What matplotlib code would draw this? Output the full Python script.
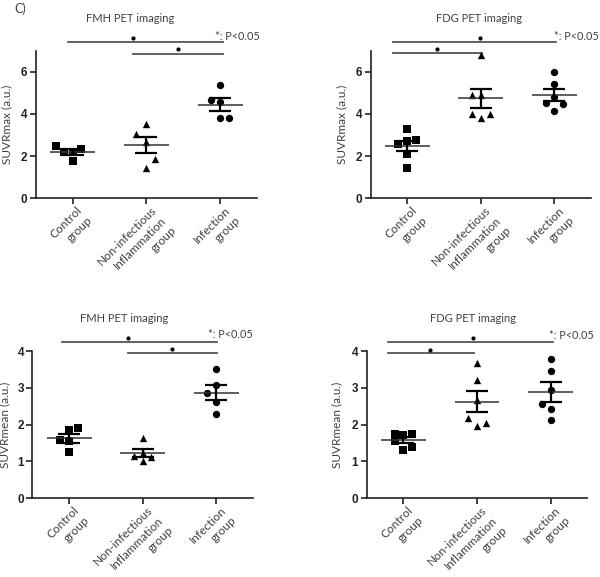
import numpy as np
import matplotlib
matplotlib.use("Agg")
import matplotlib.pyplot as plt
import matplotlib.transforms as mtransforms

# ---------------- data ----------------
groups = ["Control\ngroup", "Non-infectious\nInflammation\ngroup", "Infection\ngroup"]

fmh_max_control = [2.50, 2.20, 2.20, 2.35, 1.75]
fmh_max_noninf = [3.53, 3.03, 2.68, 1.85, 1.45]
fmh_max_infect = [5.37, 4.66, 4.58, 3.79, 3.79]

fdg_max_control = [3.30, 2.56, 2.72, 2.76, 2.09, 1.45]
fdg_max_noninf = [6.81, 4.90, 4.90, 4.00, 3.82, 4.00]
fdg_max_infect = [5.97, 5.42, 4.79, 4.53, 4.47, 4.15]

fmh_mean_control = [1.90, 1.86, 1.58, 1.56, 1.25]
fmh_mean_noninf = [1.65, 1.22, 1.16, 1.13, 1.02]
fmh_mean_infect = [3.51, 3.08, 2.85, 2.62, 2.29]

fdg_mean_control = [1.75, 1.72, 1.75, 1.55, 1.32, 1.40]
fdg_mean_noninf = [3.67, 3.22, 2.67, 2.18, 1.95, 2.04]
fdg_mean_infect = [3.79, 3.45, 2.95, 2.57, 2.43, 2.13]

titles = ["FMH PET imaging", "FDG PET imaging", "FMH PET imaging", "FDG PET imaging"]
ylabels = ["SUVRmax (a.u.)", "SUVRmax (a.u.)", "SUVRmean (a.u.)", "SUVRmean (a.u.)"]
yticks_max = [0, 2, 4, 6]
yticks_mean = [0, 1, 2, 3, 4]
sig_label = "*: P<0.05"

# ---------------- layout / style ----------------
offs = {
    "p1": [[-0.22, -0.11, 0, 0.12, 0], [0, -0.14, 0, 0.12, 0], [0, -0.13, 0, 0, 0.12]],
    "p2": [[0, -0.13, 0, 0.12, 0, 0], [0, -0.12, 0, -0.12, 0, 0.12], [0, 0, 0, -0.11, 0.12, 0]],
    "p3": [[0.12, 0, -0.12, 0, 0], [0, 0, -0.12, 0.12, 0], [0, 0, -0.13, 0, 0]],
    "p4": [[-0.12, 0, 0.12, -0.12, 0, 0.12], [0, 0, 0, -0.12, 0, 0.12], [0, 0, 0, -0.12, 0, 0]],
}
markers = ["s", "^", "o"]
TXT = "#404040"
LBL_FONT = ["Lato", "DejaVu Sans"]
TICK_FONT = ["Liberation Sans", "DejaVu Sans"]
LINE_PITCH = 14.5  # px between rotated label lines

W, H = 600, 577
fig = plt.figure(figsize=(W / 100, H / 100), dpi=100)


def ax_rect(left, right, top, bottom):
    return [left / W, 1 - bottom / H, (right - left) / W, (bottom - top) / H]


panels = [
    dict(rect=ax_rect(35.7, 257, 50.7, 198.3),
         data=[fmh_max_control, fmh_max_noninf, fmh_max_infect],
         ylim=7, yticks=yticks_max, off=offs["p1"], ylab_x=-0.105,
         bars=[(0.94, 3.04, 7.39), (1.82, 3.04, 6.82)],
         dots=[(1.82, 7.61), (2.43, 7.06)], ptxt=(2.93, 7.69), title=(130, 19)),
    dict(rect=ax_rect(370.7, 591, 50.7, 198.3),
         data=[fdg_max_control, fdg_max_noninf, fdg_max_infect],
         ylim=7, yticks=yticks_max, off=offs["p2"], ylab_x=-0.105,
         bars=[(0.80, 3.03, 7.39), (0.80, 2.01, 6.87)],
         dots=[(1.99, 7.61), (1.40, 7.08)], ptxt=(3.0, 7.69), title=(479, 19)),
    dict(rect=ax_rect(32.3, 253, 351, 498.3),
         data=[fmh_mean_control, fmh_mean_noninf, fmh_mean_infect],
         ylim=4, yticks=yticks_mean, off=offs["p3"], ylab_x=-0.098,
         bars=[(0.90, 3.01, 4.24), (1.80, 3.01, 3.94)],
         dots=[(1.80, 4.36), (2.40, 4.06)], ptxt=(2.89, 4.46), title=(124, 319)),
    dict(rect=ax_rect(366.7, 587.3, 351, 498.3),
         data=[fdg_mean_control, fdg_mean_noninf, fdg_mean_infect],
         ylim=4, yticks=yticks_mean, off=offs["p4"], ylab_x=-0.11,
         bars=[(0.79, 3.03, 4.24), (0.79, 1.96, 3.94)],
         dots=[(1.94, 4.36), (1.36, 4.03)], ptxt=(2.98, 4.42), title=(473, 319)),
]

for i, p in enumerate(panels):
    ax = fig.add_axes(p["rect"])
    for g, vals in enumerate(p["data"]):
        xc = g + 1
        xs = [xc + o for o in p["off"][g]]
        ax.scatter(xs, vals, marker=markers[g], s=28, color="black", zorder=3, linewidths=0)
        m = np.mean(vals)
        sem = np.std(vals, ddof=1) / np.sqrt(len(vals))
        ax.hlines(m, xc - 0.305, xc + 0.305, color="#333333", lw=1.1, zorder=4)
        ax.errorbar([xc], [m], yerr=[sem], fmt="none", ecolor="black", elinewidth=1.6,
                    capsize=8, capthick=1.6, zorder=4)
    ax.set_xlim(0.5, 3.5)
    ax.set_ylim(0, p["ylim"])
    ax.set_yticks(p["yticks"])
    ax.set_xticks([1, 2, 3])
    ax.set_xticklabels([])
    # rotated, right-aligned multi-line category labels (one text per line)
    for g, lab in enumerate(groups):
        for k, line in enumerate(lab.split("\n")):
            d = k * LINE_PITCH * 0.7071
            tr = ax.get_xaxis_transform() + mtransforms.ScaledTranslation(
                (4 + d) / 100, (-6 - d) / 100, fig.dpi_scale_trans)
            ax.text(g + 1, 0, line, transform=tr, rotation=45, rotation_mode="anchor",
                    ha="right", va="top", fontsize=8.6, color=TXT, family=LBL_FONT)
    for lab in ax.get_yticklabels():
        lab.set_fontweight("bold")
        lab.set_family(TICK_FONT)
        lab.set_fontsize(8.5)
        lab.set_color("#222222")
    ax.tick_params(axis="both", direction="out", length=4, width=1.2, color="#222222")
    ax.tick_params(axis="y", pad=2)
    for s in ["top", "right"]:
        ax.spines[s].set_visible(False)
    for s in ["left", "bottom"]:
        ax.spines[s].set_linewidth(1.2)
        ax.spines[s].set_color("#222222")
    ax.set_ylabel(ylabels[i], fontsize=8.5, color=TXT, family=LBL_FONT)
    ax.yaxis.set_label_coords(p["ylab_x"], 0.5)

    for (x0, x1, y) in p["bars"]:
        ax.plot([x0, x1], [y, y], color="#555555", lw=1.3, clip_on=False, zorder=2)
    for (x, y) in p["dots"]:
        ax.plot([x], [y], marker="o", ms=2.0, color="black", clip_on=False)
    ax.text(p["ptxt"][0], p["ptxt"][1], sig_label, ha="left", va="center", fontsize=7.8,
            color=TXT, family=LBL_FONT, clip_on=False)
    fig.text(p["title"][0] / W, 1 - p["title"][1] / H, titles[i], ha="center", va="center",
             fontsize=8, color=TXT, family=LBL_FONT)

fig.text(14 / W, 1 - 9 / H, "C)", ha="left", va="center", fontsize=9, color=TXT, family=LBL_FONT)

fig.savefig("out.png", dpi=100)
